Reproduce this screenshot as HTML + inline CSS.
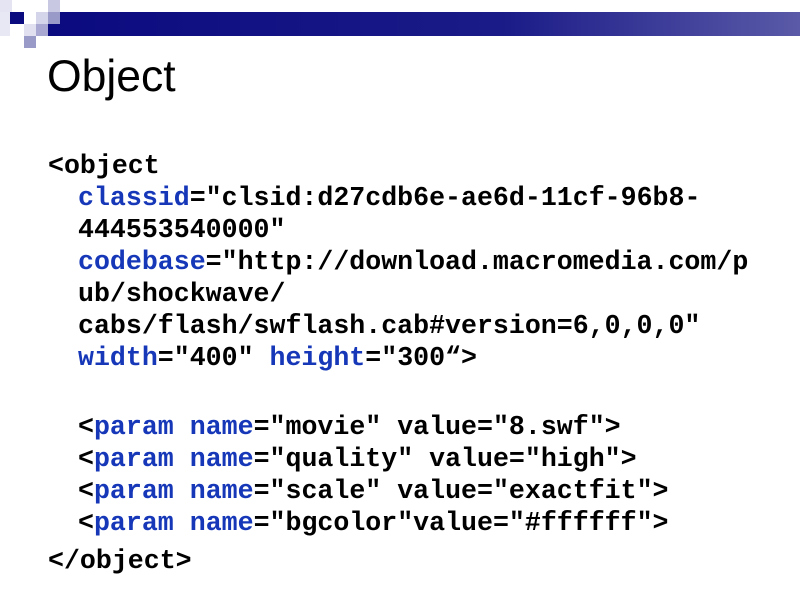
<!DOCTYPE html>
<html><head><meta charset="utf-8"><style>
body{margin:0;width:800px;height:600px;background:#fff;position:relative;overflow:hidden}
.bar{position:absolute;left:48px;top:12px;width:752px;height:24px;background:linear-gradient(90deg,#0b0b80,#1a1a88 60%,#5a5aa8)}
.sq{position:absolute;width:12px;height:12px}
.t{position:absolute;left:47px;top:52px;font:44.5px "Liberation Sans",sans-serif;color:#000}
.l{position:absolute;font:bold 26.6px/32px "Liberation Mono",monospace;color:#000;white-space:pre}
.b{color:#1537b8}
</style></head><body>
<div class="bar"></div>
<div class="sq" style="left:0;top:0;width:12px;height:12px;background:#e4e4f2"></div>
<div class="sq" style="left:48px;top:0;background:#c8c8e2"></div>
<div class="sq" style="left:0;top:12px;width:10px;height:24px;background:#e8e8f4"></div>
<div class="sq" style="left:10px;top:12px;width:14px;background:#0b0b80"></div>
<div class="sq" style="left:36px;top:12px;background:#d4d4ea"></div>
<div class="sq" style="left:48px;top:12px;background:#9a9ac8"></div>
<div class="sq" style="left:24px;top:24px;background:#e0e0f0"></div>
<div class="sq" style="left:36px;top:24px;background:#a8a8d2"></div>
<div class="sq" style="left:24px;top:36px;background:#9a9ac8"></div>
<div class="t">Object</div>
<div class="l" style="left:48px;top:150px">&lt;object</div>
<div class="l" style="left:78px;top:182px"><span class="b">classid</span>="clsid:d27cdb6e-ae6d-11cf-96b8-</div>
<div class="l" style="left:78px;top:214px">444553540000"</div>
<div class="l" style="left:78px;top:246px"><span class="b">codebase</span>="http://download.macromedia.com/p</div>
<div class="l" style="left:78px;top:278px">ub/shockwave/</div>
<div class="l" style="left:78px;top:310px">cabs/flash/swflash.cab#version=6,0,0,0"</div>
<div class="l" style="left:78px;top:342px"><span class="b">width</span>="400" <span class="b">height</span>="300“&gt;</div>
<div class="l" style="left:78px;top:411px">&lt;<span class="b">param</span> <span class="b">name</span>="movie" value="8.swf"&gt;</div>
<div class="l" style="left:78px;top:443px">&lt;<span class="b">param</span> <span class="b">name</span>="quality" value="high"&gt;</div>
<div class="l" style="left:78px;top:475px">&lt;<span class="b">param</span> <span class="b">name</span>="scale" value="exactfit"&gt;</div>
<div class="l" style="left:78px;top:507px">&lt;<span class="b">param</span> <span class="b">name</span>="bgcolor"value="#ffffff"&gt;</div>
<div class="l" style="left:48px;top:545px">&lt;/object&gt;</div>
</body></html>
